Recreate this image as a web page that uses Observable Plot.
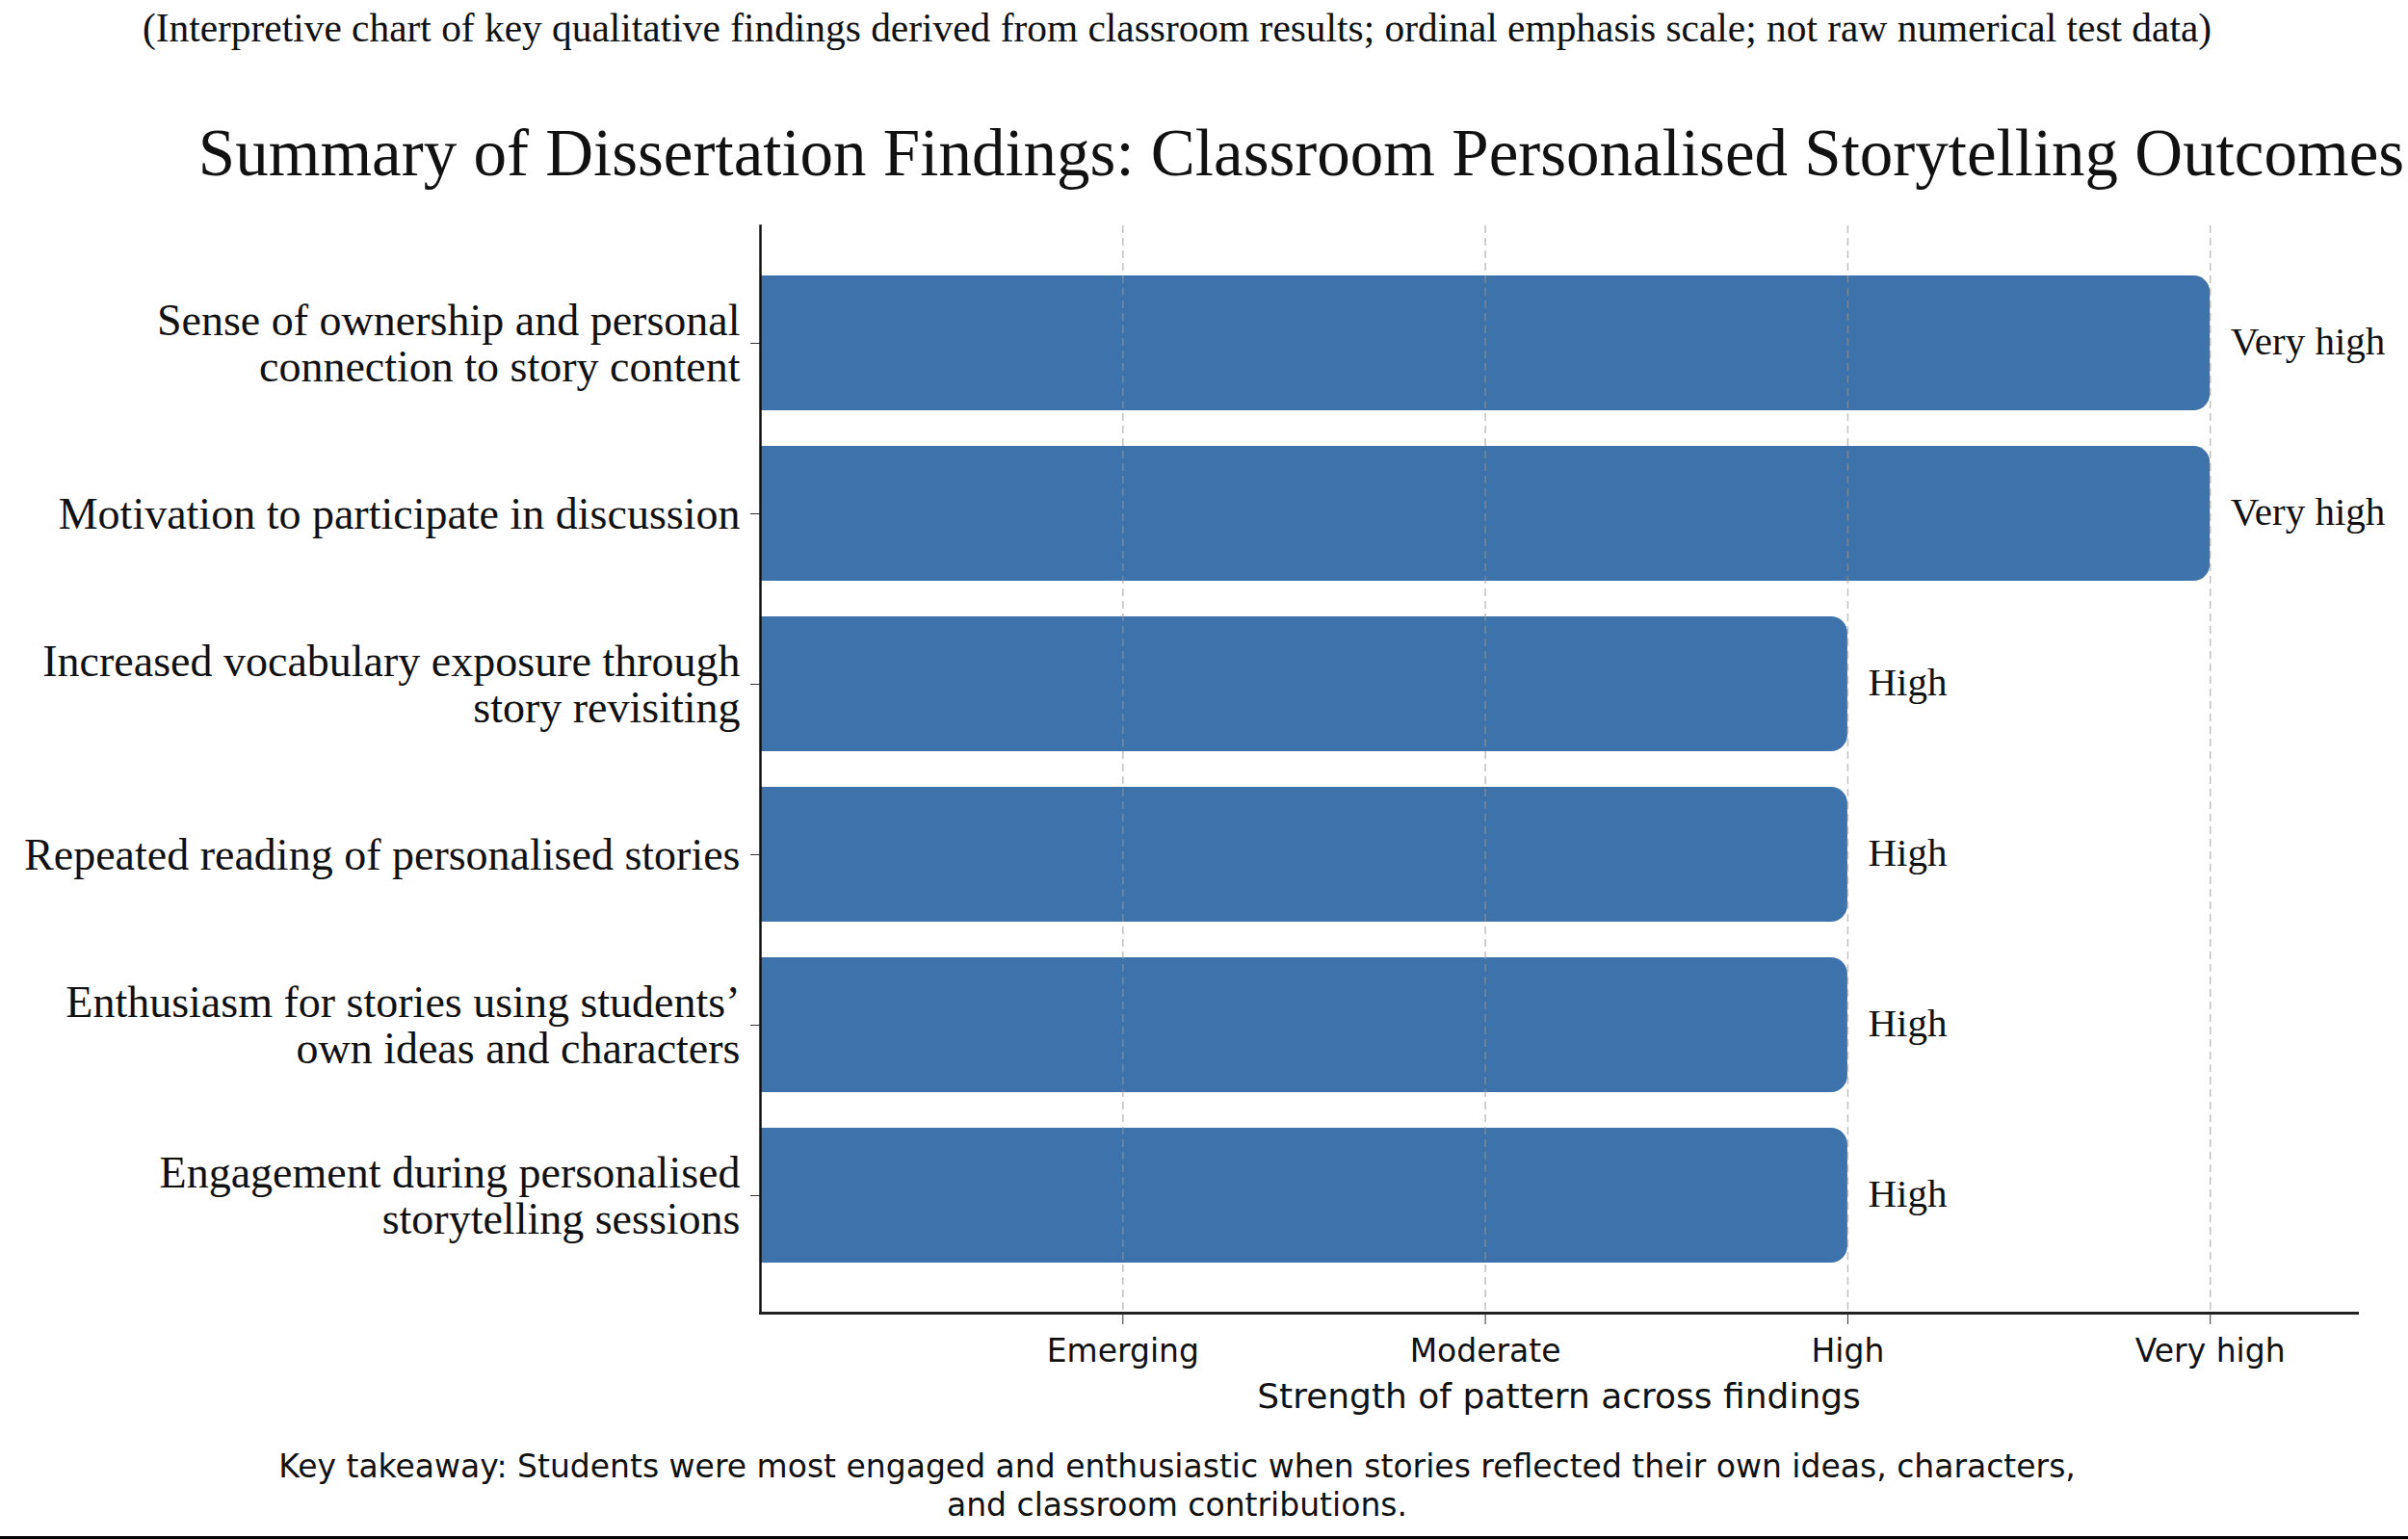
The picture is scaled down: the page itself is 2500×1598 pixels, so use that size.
<!DOCTYPE html>
<html>
<head>
<meta charset="utf-8">
<script src="https://cdn.jsdelivr.net/npm/d3@7"></script>
<script src="https://cdn.jsdelivr.net/npm/@observablehq/plot@0.6"></script>
<style>
  html, body { margin: 0; padding: 0; background: #fff; }
  #page { position: relative; width: 2500px; height: 1598px; overflow: hidden; background: #fff; }
  .serif { font-family: "Liberation Serif", "Times New Roman", serif; color: #111; }
  .sans { font-family: "DejaVu Sans", sans-serif; color: #111; }
  #subtitle { position: absolute; top: 6px; left: 1222px; transform: translateX(-50%); white-space: nowrap; font-size: 41.4px; line-height: 46px; }
  #title { position: absolute; top: 118px; left: 1351px; transform: translateX(-50%); white-space: nowrap; font-size: 69px; line-height: 82px; }
  #chart { position: absolute; top: 200px; left: 0; }
  #caption { position: absolute; top: 1503px; left: 1222px; transform: translateX(-50%); white-space: nowrap; text-align: center; font-size: 33px; line-height: 40px; }
  #edge { position: absolute; left: 0; top: 1595px; width: 2500px; height: 3px; background: #000; }
</style>
</head>
<body>
<div id="page">
  <div id="subtitle" class="serif"></div>
  <div id="title" class="serif"></div>
  <div id="chart"></div>
  <div id="caption" class="sans"></div>
  <div id="edge"></div>
</div>
<script>
const subtitleText = "(Interpretive chart of key qualitative findings derived from classroom results; ordinal emphasis scale; not raw numerical test data)";
const titleText = "Summary of Dissertation Findings: Classroom Personalised Storytelling Outcomes";
const captionLines = [
  "Key takeaway: Students were most engaged and enthusiastic when stories reflected their own ideas, characters,",
  "and classroom contributions."
];
const xAxisLabel = "Strength of pattern across findings";

const findings = [
  "Sense of ownership and personal\nconnection to story content",
  "Motivation to participate in discussion",
  "Increased vocabulary exposure through\nstory revisiting",
  "Repeated reading of personalised stories",
  "Enthusiasm for stories using students’\nown ideas and characters",
  "Engagement during personalised\nstorytelling sessions"
];
const strength = [4, 4, 3, 3, 3, 3];
const levelValues = [1, 2, 3, 4];
const levelNames = ["Emerging", "Moderate", "High", "Very high"];

const data = findings.map((f, i) => ({finding: f, value: strength[i], level: levelNames[strength[i] - 1]}));

document.getElementById("subtitle").textContent = subtitleText;
document.getElementById("title").textContent = titleText;
document.getElementById("caption").innerHTML = captionLines.join("<br>");

const barColor = "#3d72ab";
const serif = "Liberation Serif, Times New Roman, serif";
const sans = "DejaVu Sans, sans-serif";

const chart = Plot.plot({
  width: 2500,
  height: 1300,
  marginLeft: 789,
  marginRight: 53,
  marginTop: 34,
  marginBottom: 137,
  style: {background: "transparent", color: "#111"},
  x: {domain: [0, 4.406]},
  y: {domain: findings, padding: 0.21, insetTop: 14, insetBottom: 14},
  marks: [
    Plot.barX(data, {x1: 0, x2: "value", y: "finding", fill: barColor, rx: 17}),
    Plot.barX(data, {x1: 0, x2: d => d.value / 2, y: "finding", fill: barColor}),
    Plot.gridX(levelValues, {stroke: "#999", strokeOpacity: 0.6, strokeWidth: 1.5, strokeDasharray: "8,5"}),
    Plot.text(data, {x: "value", y: "finding", text: "level", dx: 21, dy: -2, textAnchor: "start", fontSize: 41, fontFamily: serif, fill: "#111"}),
    Plot.axisY({tickSize: 10, tickPadding: 11, fontSize: 46, fontFamily: serif, lineHeight: 1.05, label: null, stroke: "#333"}),
    Plot.axisX(levelValues, {tickFormat: d => levelNames[d - 1], tickSize: 12, tickPadding: 15, fontSize: 33, fontFamily: sans, label: null, stroke: "#333"}),
    Plot.text([xAxisLabel], {frameAnchor: "bottom", dy: 98, text: d => d, fontSize: 36, fontFamily: sans, fill: "#111"}),
    Plot.frame({anchor: "left", stroke: "#111", strokeWidth: 2.5}),
    Plot.frame({anchor: "bottom", stroke: "#222", strokeWidth: 3})
  ]
});
document.getElementById("chart").appendChild(chart);
</script>
</body>
</html>
